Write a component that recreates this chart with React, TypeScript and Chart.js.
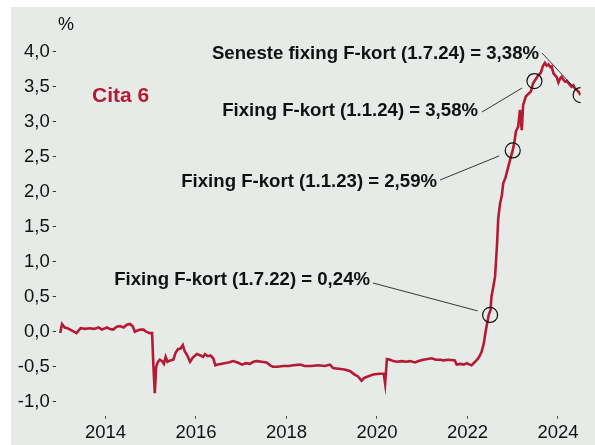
import React, { useEffect, useRef } from "react";
import { Chart, registerables } from "chart.js";

Chart.register(...registerables);

// ---- Data ----
const seriesName = "Cita 6";
const unitLabel = "%";

const years = [
  2013.0, 2013.04, 2013.1, 2013.16, 2013.25, 2013.36, 2013.45, 2013.55, 2013.65, 2013.75,
  2013.85, 2013.92, 2014.03, 2014.1, 2014.17, 2014.25, 2014.32, 2014.4, 2014.47, 2014.54,
  2014.6, 2014.65, 2014.72, 2014.78, 2014.84, 2014.9, 2014.98, 2015.03, 2015.06, 2015.09,
  2015.12, 2015.16, 2015.2, 2015.25, 2015.29, 2015.33, 2015.37, 2015.43, 2015.5, 2015.55,
  2015.6, 2015.66, 2015.71, 2015.75, 2015.8, 2015.87, 2015.93, 2016.02, 2016.1, 2016.16,
  2016.2, 2016.26, 2016.32, 2016.38, 2016.43, 2016.48, 2016.55, 2016.62, 2016.72, 2016.82,
  2016.92, 2017.02, 2017.1, 2017.19, 2017.27, 2017.34, 2017.45, 2017.56, 2017.64, 2017.7,
  2017.8, 2017.93, 2018.05, 2018.15, 2018.3, 2018.4, 2018.55, 2018.7, 2018.85, 2018.96,
  2019.03, 2019.15, 2019.28, 2019.4, 2019.5, 2019.58, 2019.66, 2019.72, 2019.8, 2019.92,
  2020.05, 2020.15, 2020.18, 2020.22, 2020.29, 2020.36, 2020.44, 2020.55, 2020.65, 2020.73,
  2020.84, 2020.92, 2021.02, 2021.12, 2021.21, 2021.3, 2021.4, 2021.47, 2021.58, 2021.72,
  2021.76, 2021.85, 2021.92, 2021.98, 2022.05, 2022.09, 2022.15, 2022.2, 2022.26, 2022.31,
  2022.36, 2022.4, 2022.44, 2022.47, 2022.51, 2022.53, 2022.57, 2022.61, 2022.65, 2022.68,
  2022.72, 2022.76, 2022.79, 2022.84, 2022.88, 2022.94, 2023.0, 2023.04, 2023.07, 2023.12,
  2023.16, 2023.2, 2023.23, 2023.29, 2023.35, 2023.4, 2023.45, 2023.5, 2023.56, 2023.62,
  2023.67, 2023.71, 2023.75, 2023.79, 2023.83, 2023.86, 2023.9, 2023.94, 2023.97, 2024.01,
  2024.05, 2024.08, 2024.12, 2024.16, 2024.2, 2024.23, 2024.3, 2024.34, 2024.37, 2024.42,
  2024.45, 2024.5,
];

const values = [
  -0.02, 0.11, 0.06, 0.05, 0.02, -0.02, 0.05, 0.04, 0.05, 0.04,
  0.06, 0.03, 0.06, 0.04, 0.03, 0.07, 0.08, 0.06, 0.1, 0.11,
  0.08, 0.0, 0.02, 0.03, 0.03, 0.0, -0.02, -0.02, -0.5, -0.88,
  -0.5, -0.43, -0.4, -0.42, -0.46, -0.36, -0.43, -0.41, -0.4, -0.3,
  -0.25, -0.24, -0.19, -0.28, -0.33, -0.43, -0.37, -0.32, -0.34, -0.36,
  -0.32, -0.35, -0.34, -0.38, -0.48, -0.47, -0.46, -0.45, -0.44, -0.42,
  -0.44, -0.47, -0.45, -0.46, -0.43, -0.42, -0.43, -0.44, -0.48, -0.5,
  -0.5, -0.49, -0.49, -0.48, -0.47, -0.49, -0.49, -0.48, -0.49, -0.47,
  -0.52, -0.53, -0.54, -0.56, -0.61, -0.64, -0.7, -0.66, -0.64, -0.61,
  -0.6, -0.6, -0.74, -0.39, -0.4, -0.42, -0.43, -0.42, -0.43, -0.42,
  -0.44, -0.42, -0.4, -0.39, -0.38, -0.4, -0.4, -0.41, -0.4, -0.41,
  -0.47, -0.46, -0.47, -0.45, -0.47, -0.48, -0.44, -0.41, -0.36, -0.29,
  -0.17, 0.0, 0.14, 0.24, 0.31, 0.5, 0.64, 0.79, 1.21, 1.62,
  1.83, 1.95, 2.12, 2.2, 2.3, 2.45, 2.59, 2.72, 2.86, 2.93,
  3.17, 2.88, 3.24, 3.36, 3.4, 3.43, 3.55, 3.6, 3.66, 3.7,
  3.8, 3.84, 3.8, 3.82, 3.78, 3.79, 3.69, 3.66, 3.64, 3.56,
  3.62, 3.64, 3.6, 3.57, 3.58, 3.55, 3.5, 3.52, 3.48, 3.45,
  3.43, 3.38,
];

const yTicks = [-1, -0.5, 0, 0.5, 1, 1.5, 2, 2.5, 3, 3.5, 4];
const xTicks = [2014, 2016, 2018, 2020, 2022, 2024];

const fixLabels = [
  "Seneste fixing F-kort (1.7.24) = 3,38%",
  "Fixing F-kort (1.1.24) = 3,58%",
  "Fixing F-kort (1.1.23) = 2,59%",
  "Fixing F-kort (1.7.22) = 0,24%",
];
const fixYears = [2024.5, 2023.48, 2023.0, 2022.5];
const fixValues = [3.38, 3.58, 2.59, 0.24];

// ---- Styles / layout ----
const FONT = '"Liberation Sans", Arial, Helvetica, sans-serif';
const RED = "#b51a33";
const PANEL = "#e7ebe8";

// per-label layout: text right edge, text centre y, leader start, leader end offset from circle centre
const labelLayout = [
  { right: 539, cy: 54, sx: 542, sy: 53, ex: -5, ey: -6 },
  { right: 478, cy: 111, sx: 482, sy: 112, ex: -12.5, ey: 7 },
  { right: 437, cy: 182, sx: 440, sy: 180, ex: -13.5, ey: 5.5 },
  { right: 370, cy: 280, sx: 373, sy: 283, ex: -12.5, ey: -4 },
];

const fmt = (v: number) => v.toFixed(1).replace(".", ",");

const panelPlugin = {
  id: "panel",
  beforeDraw(chart: any) {
    const ctx = chart.ctx;
    ctx.save();
    ctx.fillStyle = "#ffffff";
    ctx.fillRect(0, 0, chart.width, chart.height);
    ctx.fillStyle = PANEL;
    ctx.fillRect(11, 7, chart.width - 11, chart.height - 7);
    ctx.restore();
  },
};

const annotPlugin = {
  id: "annot",
  afterDatasetsDraw(chart: any) {
    const ctx = chart.ctx;
    const xs = chart.scales.x;
    const ys = chart.scales.y;
    const area = chart.chartArea;
    ctx.save();
    // circles (clipped to plot area)
    ctx.save();
    ctx.beginPath();
    ctx.rect(area.left, area.top, area.right - area.left, area.bottom - area.top);
    ctx.clip();
    ctx.strokeStyle = "#111";
    ctx.lineWidth = 1.2;
    for (let i = 0; i < fixYears.length; i++) {
      const px = xs.getPixelForValue(fixYears[i]);
      const py = ys.getPixelForValue(fixValues[i]);
      ctx.beginPath();
      ctx.arc(px, py, 7.5, 0, Math.PI * 2);
      ctx.stroke();
    }
    ctx.restore();
    // leader lines
    ctx.strokeStyle = "#222";
    ctx.lineWidth = 0.9;
    for (let i = 0; i < fixYears.length; i++) {
      const L = labelLayout[i];
      const px = xs.getPixelForValue(fixYears[i]);
      const py = ys.getPixelForValue(fixValues[i]);
      ctx.beginPath();
      ctx.moveTo(L.sx, L.sy);
      ctx.lineTo(px + L.ex, py + L.ey);
      ctx.stroke();
    }
    // label texts
    ctx.fillStyle = "#111";
    ctx.font = `bold 18.6px ${FONT}`;
    ctx.textAlign = "right";
    ctx.textBaseline = "middle";
    for (let i = 0; i < fixLabels.length; i++) {
      const L = labelLayout[i];
      ctx.fillText(fixLabels[i], L.right, L.cy);
    }
    // series name
    ctx.fillStyle = RED;
    ctx.font = `bold 21px ${FONT}`;
    ctx.textAlign = "left";
    ctx.fillText(seriesName, 92, 96);
    // unit
    ctx.fillStyle = "#111";
    ctx.font = `18px ${FONT}`;
    ctx.textAlign = "center";
    ctx.fillText(unitLabel, 66, 25);
    ctx.restore();
  },
};

export default function App() {
  const ref = useRef<HTMLCanvasElement | null>(null);

  useEffect(() => {
    document.body.style.margin = "0";
    const canvas = ref.current;
    if (!canvas) return;
    const chart = new Chart(canvas, {
      type: "line",
      data: {
        datasets: [
          {
            label: seriesName,
            data: years.map((x, i) => ({ x, y: values[i] })),
            borderColor: RED,
            borderWidth: 2.6,
            pointRadius: 0,
            tension: 0,
            fill: false,
          },
        ],
      },
      options: {
        responsive: false,
        animation: false,
        devicePixelRatio: 1,
        layout: { padding: { left: 0, right: 14.4, top: 30.7, bottom: 0 } },
        plugins: { legend: { display: false }, tooltip: { enabled: false } },
        scales: {
          x: {
            type: "linear",
            min: 2012.9,
            max: 2024.5,
            afterBuildTicks: (s: any) => {
              s.ticks = xTicks.map((v) => ({ value: v }));
            },
            afterFit: (s: any) => {
              s.height = 29.3;
            },
            ticks: {
              callback: (v: any) => String(v),
              color: "#111",
              font: { size: 18.5, family: FONT },
              padding: 3,
              maxRotation: 0,
              autoSkip: false,
            },
            grid: { drawOnChartArea: false, drawTicks: true, tickLength: 3, color: "#444", lineWidth: 1 },
            border: { display: false },
          },
          y: {
            type: "linear",
            min: -1.2,
            max: 4.3,
            afterBuildTicks: (s: any) => {
              s.ticks = yTicks.map((v) => ({ value: v }));
            },
            afterFit: (s: any) => {
              s.width = 55.7;
            },
            ticks: {
              callback: (v: any) => fmt(Number(v)),
              color: "#111",
              font: { size: 18.5, family: FONT },
              padding: 3,
            },
            grid: { drawOnChartArea: false, drawTicks: true, tickLength: 3, color: "#333", lineWidth: 1 },
            border: { display: false },
          },
        },
      },
      plugins: [panelPlugin, annotPlugin],
    } as any);
    return () => chart.destroy();
  }, []);

  return (
    <div style={{ position: "absolute", left: 0, top: 0, width: 595, height: 445 }}>
      <canvas ref={ref} width={595} height={445} style={{ width: 595, height: 445, display: "block" }} />
    </div>
  );
}
